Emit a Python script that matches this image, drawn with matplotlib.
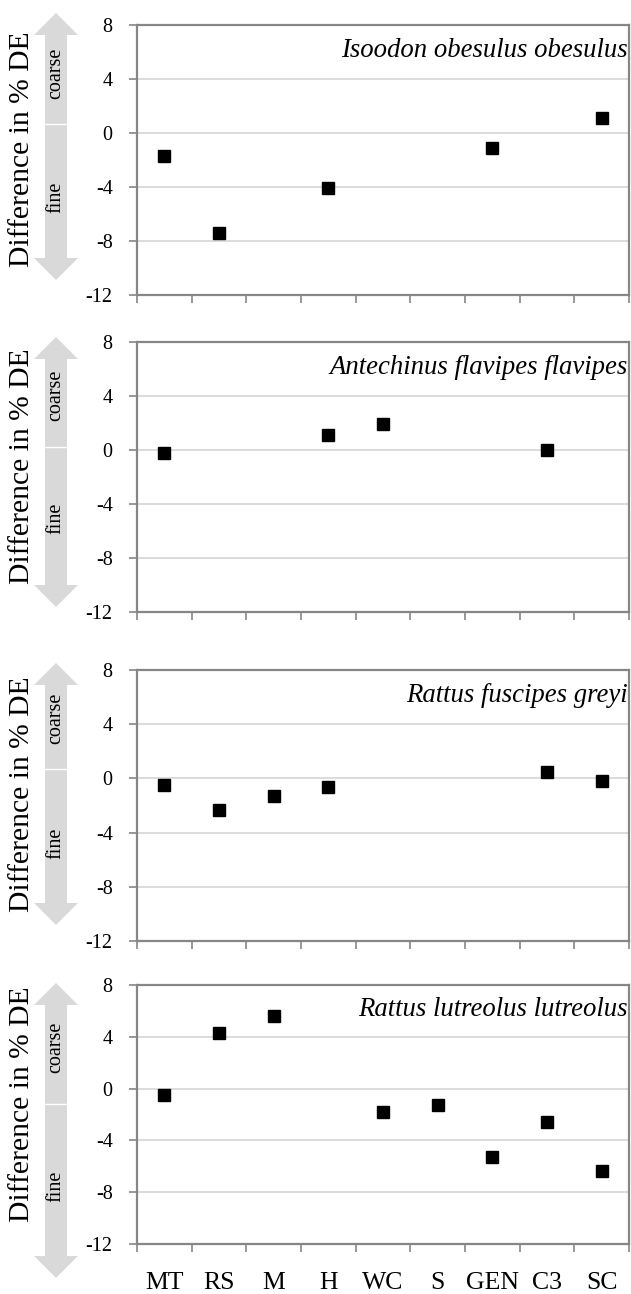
import numpy as np
import matplotlib
matplotlib.use("Agg")
import matplotlib.pyplot as plt
from matplotlib.patches import Polygon

categories = ["MT", "RS", "M", "H", "WC", "S", "GEN", "C3", "SC"]
species = ["Isoodon obesulus obesulus", "Antechinus flavipes flavipes",
           "Rattus fuscipes greyi", "Rattus lutreolus lutreolus"]
nan = np.nan
isoodon = [-1.7, -7.4, nan, -4.1, nan, nan, -1.1, nan, 1.1]
antechinus = [-0.2, nan, nan, 1.1, 1.9, nan, nan, 0.0, nan]
fuscipes = [-0.5, -2.3, -1.3, -0.6, nan, nan, nan, 0.5, -0.2]
lutreolus = [-0.5, 4.3, 5.6, nan, -1.8, -1.3, -5.3, -2.6, -6.4]
series = [isoodon, antechinus, fuscipes, lutreolus]
yticks = [-12, -8, -4, 0, 4, 8]

W, H = 631, 1294
fig = plt.figure(figsize=(W / 100, H / 100), dpi=100)
plt.rcParams['font.family'] = ['Liberation Serif', 'DejaVu Serif']

# panel boxes in pixels: (top, bottom)
panels = [(25, 295), (342, 612), (670, 941), (985, 1244)]
# arrow (top, bottom, separator, coarse centre, fine centre) in pixels
arrows = [(13, 280, 124, 73, 197), (337, 607, 447, 395, 518),
          (663, 925, 769, 718, 843), (983, 1278, 1104, 1047, 1186)]
left_px, right_px = 137, 629
grey = "#868686"
x = np.arange(len(categories))

def fx(px):
    return px / W

def fy(py):
    return 1 - py / H

for i, ((top, bot), vals, name) in enumerate(zip(panels, series, species)):
    ax = fig.add_axes([fx(left_px), fy(bot), fx(right_px - left_px), (bot - top) / H])
    ax.plot(x, vals, linestyle="none", marker="s", markersize=8.8,
            color="black", zorder=3)
    ax.set_xlim(-0.5, len(categories) - 0.5)
    ax.set_ylim(-12, 8)
    ax.set_yticks(yticks)
    ax.set_yticklabels([str(t) for t in yticks], fontsize=14.5)
    ax.yaxis.grid(True, color="#d9d9d9", linewidth=1.3)
    ax.set_axisbelow(True)
    ax.set_xticks(x)
    if i == len(panels) - 1:
        ax.set_xticklabels(categories, fontsize=18.5)
    else:
        ax.set_xticklabels([])
    ax.set_xticks(np.arange(-0.5, len(categories)), minor=True)
    ax.tick_params(axis="x", which="major", length=0, pad=20)
    ax.tick_params(axis="x", which="minor", length=5.5, width=1.2, color=grey, direction="out")
    ax.tick_params(axis="y", length=5.5, width=1.2, color=grey, direction="out", pad=12)
    for s in ax.spines.values():
        s.set_color(grey)
        s.set_linewidth(1.6)
    ax.text(0.997, 0.905, name, transform=ax.transAxes, ha="right", va="center",
            fontsize=19.3, style="italic")
    ax.set_ylabel("Difference in % DE", fontsize=21.3, va="center")
    ax.yaxis.set_label_coords((22 - left_px) / (right_px - left_px), 0.54)

    # double arrow (coarse / fine)
    atop, abot, asep, yc, yf = arrows[i]
    cx, sw, hw, hl = 56, 11, 22, 22
    pts = [(cx, atop), (cx + hw, atop + hl), (cx + sw, atop + hl),
           (cx + sw, abot - hl), (cx + hw, abot - hl), (cx, abot),
           (cx - hw, abot - hl), (cx - sw, abot - hl), (cx - sw, atop + hl),
           (cx - hw, atop + hl)]
    poly = Polygon([(fx(a), fy(b)) for a, b in pts], closed=True,
                   transform=fig.transFigure, facecolor="#d9d9d9",
                   edgecolor="none", zorder=0)
    fig.patches.append(poly)
    fig.lines.append(plt.Line2D([fx(cx - sw), fx(cx + sw)], [fy(asep), fy(asep)],
                                transform=fig.transFigure, color="white", linewidth=1))
    fig.text(fx(cx), fy(yc), "coarse", rotation=90,
             ha="center", va="center", fontsize=14.5)
    fig.text(fx(cx), fy(yf), "fine", rotation=90,
             ha="center", va="center", fontsize=14.5)

fig.savefig("out.png", dpi=100)
